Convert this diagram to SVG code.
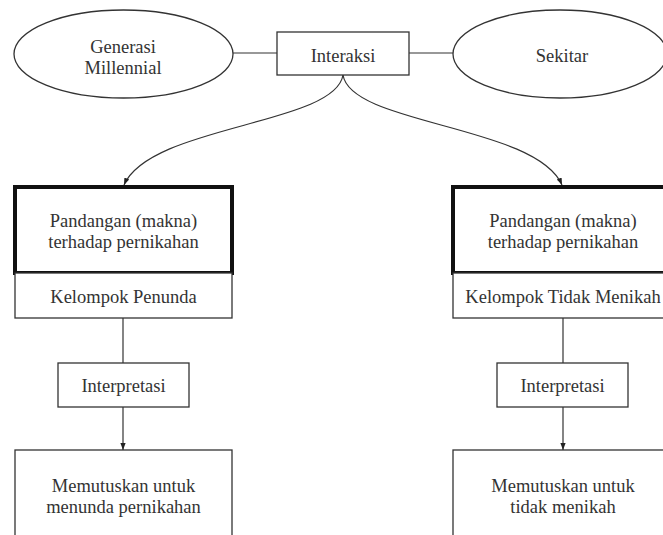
<svg xmlns="http://www.w3.org/2000/svg" width="663" height="535" viewBox="0 0 663 535">
<style>
.s{fill:#fff;stroke:#333;stroke-width:1.3}
.k{fill:#fff;stroke:#111;stroke-width:4}
.t{font-family:"Liberation Serif","Times New Roman",serif;font-size:18.5px;fill:#333;text-anchor:middle}
.c{fill:none;stroke:#333;stroke-width:1.2}
</style>
<defs>
<marker id="ah" viewBox="0 0 8 8" refX="8" refY="4" markerWidth="7" markerHeight="7" markerUnits="userSpaceOnUse" orient="auto">
<path d="M0,1 L8,4 L0,7 Z" fill="#222"/>
</marker>
</defs>
<rect width="663" height="535" fill="#fff"/>
<g id="connectors">
<line class="c" x1="233" y1="53" x2="277" y2="53"/>
<line class="c" x1="409" y1="53" x2="453" y2="53"/>
<path class="c" d="M343,75 C335,125 150,125 124,185" marker-end="url(#ah)"/>
<path class="c" d="M343,75 C351,125 536,125 562,185" marker-end="url(#ah)"/>
<line class="c" x1="123" y1="318" x2="123" y2="363"/>
<line class="c" x1="123" y1="407" x2="123" y2="450" marker-end="url(#ah)"/>
<line class="c" x1="563" y1="318" x2="563" y2="363"/>
<line class="c" x1="563" y1="407" x2="563" y2="450" marker-end="url(#ah)"/>
</g>
<g id="generasi">
<ellipse class="s" cx="123.5" cy="54" rx="109.5" ry="44"/>
<text class="t" x="123" y="53">Generasi</text>
<text class="t" x="123" y="74">Millennial</text>
</g>
<g id="interaksi">
<rect class="s" x="277" y="32" width="132" height="43"/>
<text class="t" x="343" y="62">Interaksi</text>
</g>
<g id="sekitar">
<ellipse class="s" cx="560" cy="54" rx="107" ry="44"/>
<text class="t" x="562" y="62">Sekitar</text>
</g>
<g id="pandangan-kiri">
<rect class="k" x="15" y="187" width="217" height="86"/>
<text class="t" x="123.5" y="227">Pandangan (makna)</text>
<text class="t" x="123.5" y="248">terhadap pernikahan</text>
</g>
<g id="kelompok-penunda">
<rect class="s" x="15" y="273" width="217" height="45"/>
<text class="t" x="123.5" y="303">Kelompok Penunda</text>
</g>
<g id="interpretasi-kiri">
<rect class="s" x="58" y="363" width="131" height="44"/>
<text class="t" x="123.5" y="392">Interpretasi</text>
</g>
<g id="memutuskan-kiri">
<rect class="s" x="15" y="450" width="217" height="100"/>
<text class="t" x="123.5" y="492">Memutuskan untuk</text>
<text class="t" x="123.5" y="513">menunda pernikahan</text>
</g>
<g id="pandangan-kanan">
<rect class="k" x="453" y="187" width="220" height="86"/>
<text class="t" x="563" y="227">Pandangan (makna)</text>
<text class="t" x="563" y="248">terhadap pernikahan</text>
</g>
<g id="kelompok-tidak-menikah">
<rect class="s" x="453" y="273" width="220" height="45"/>
<text class="t" x="563" y="303">Kelompok Tidak Menikah</text>
</g>
<g id="interpretasi-kanan">
<rect class="s" x="497" y="363" width="131" height="44"/>
<text class="t" x="562.5" y="392">Interpretasi</text>
</g>
<g id="memutuskan-kanan">
<rect class="s" x="453" y="450" width="220" height="100"/>
<text class="t" x="563" y="492">Memutuskan untuk</text>
<text class="t" x="563" y="513">tidak menikah</text>
</g>
</svg>
